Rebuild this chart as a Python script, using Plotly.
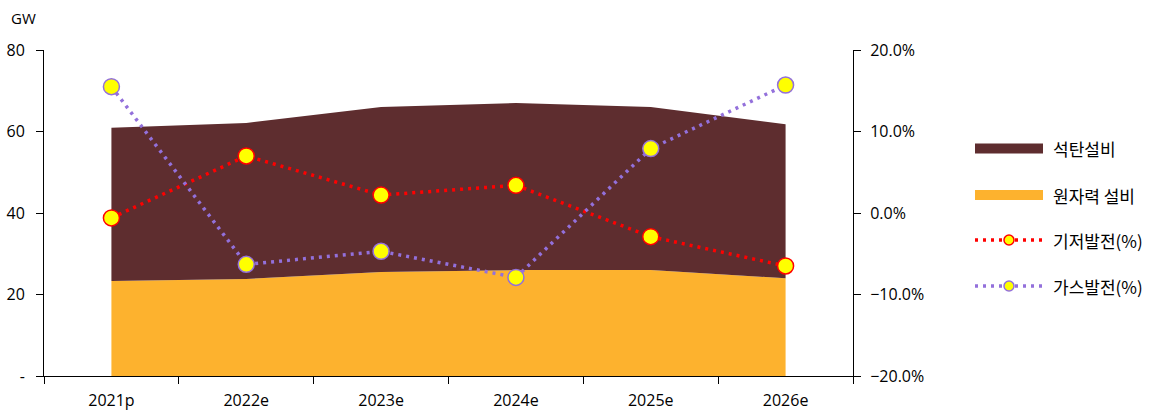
import plotly.graph_objects as go

categories = ["2021p", "2022e", "2023e", "2024e", "2025e", "2026e"]
nuclear_gw = [23.3, 23.8, 25.5, 26.0, 26.0, 24.0]
coal_gw = [37.6, 38.3, 40.5, 41.0, 40.0, 37.8]
baseload_pct = [-0.006, 0.070, 0.022, 0.034, -0.029, -0.065]
gas_pct = [0.155, -0.063, -0.047, -0.079, 0.079, 0.157]

left_ticks = [0, 20, 40, 60, 80]
left_ticktext = ["-", "20", "40", "60", "80"]
right_ticks = [-0.2, -0.1, 0.0, 0.1, 0.2]

names = ["석탄설비", "원자력 설비", "기저발전(%)", "가스발전(%)"]
COAL = "#5E2D2F"
NUC = "#FDB22E"
RED = "#FF0000"
PURPLE = "#9370DB"
YELLOW = "#FFFF00"

W, H = 1162, 411
ML, MR, MT, MB = 44, 309, 50, 35
PW = W - ML - MR
PH = H - MT - MB


def px(x):
    return (x - ML) / PW


def py(y):
    return (H - MB - y) / PH


fig = go.Figure()
fig.add_trace(go.Scatter(x=categories, y=nuclear_gw, name=names[1], mode="none",
                         stackgroup="one", fillcolor=NUC, showlegend=False))
fig.add_trace(go.Scatter(x=categories, y=coal_gw, name=names[0], mode="none",
                         stackgroup="one", fillcolor=COAL, showlegend=False))
fig.add_trace(go.Scatter(x=categories, y=baseload_pct, name=names[2], yaxis="y2",
                         mode="lines+markers",
                         line=dict(color=RED, width=3.5, dash="3px,5px"),
                         marker=dict(size=16, color=YELLOW, line=dict(color=RED, width=1.5)),
                         showlegend=False))
fig.add_trace(go.Scatter(x=categories, y=gas_pct, name=names[3], yaxis="y2",
                         mode="lines+markers",
                         line=dict(color=PURPLE, width=3.5, dash="3px,5px"),
                         marker=dict(size=16, color=YELLOW, line=dict(color=PURPLE, width=1.5)),
                         showlegend=False))

tickfont = dict(family="Open Sans", size=16, color="#000")
fig.update_layout(
    width=W, height=H, autosize=False,
    margin=dict(l=ML, r=MR, t=MT, b=MB, pad=0),
    plot_bgcolor="white", paper_bgcolor="white",
    showlegend=False,
    xaxis=dict(type="category", range=[-0.5, 5.5], showgrid=False, automargin=False,
               showline=True, linecolor="#000", linewidth=1,
               ticks="outside", ticklen=7, tickcolor="#000", tickson="boundaries",
               tickfont=tickfont, ticklabelstandoff=10),
    yaxis=dict(range=[0, 80], tickvals=left_ticks, ticktext=left_ticktext, automargin=False,
               showgrid=False, zeroline=False, showline=True, linecolor="#000",
               ticks="outside", ticklen=7, tickcolor="#000", tickfont=tickfont,
               ticklabelstandoff=8),
    yaxis2=dict(range=[-0.2, 0.2], tickvals=right_ticks, tickformat=".1%", automargin=False,
                overlaying="y", side="right", showgrid=False, zeroline=False,
                showline=True, linecolor="#000", ticks="outside", ticklen=7,
                tickcolor="#000", tickfont=tickfont, ticklabelstandoff=6),
)

fig.add_annotation(text="GW", xref="paper", yref="paper", x=px(9), y=py(18),
                   xanchor="left", yanchor="middle", showarrow=False,
                   font=dict(family="Open Sans", size=15, color="#000"))

# custom legend
legfont = dict(family="Noto Sans CJK KR", size=17, color="#000")
x0, x1, xt = 975, 1043, 1051
rows = [148.5, 195, 240, 286]
fig.add_shape(type="rect", xref="paper", yref="paper", x0=px(x0), x1=px(x1),
              y0=py(rows[0] - 5), y1=py(rows[0] + 5), fillcolor=COAL, line_width=0)
fig.add_shape(type="rect", xref="paper", yref="paper", x0=px(x0), x1=px(x1),
              y0=py(rows[1] - 5), y1=py(rows[1] + 5), fillcolor=NUC, line_width=0)
for r, c in [(rows[2], RED), (rows[3], PURPLE)]:
    fig.add_shape(type="line", xref="paper", yref="paper", x0=px(x0), x1=px(x1),
                  y0=py(r), y1=py(r), line=dict(color=c, width=3.5, dash="3px,5px"))
    fig.add_shape(type="circle", xref="paper", yref="paper",
                  x0=px(1009 - 5), x1=px(1009 + 5), y0=py(r - 5), y1=py(r + 5),
                  fillcolor=YELLOW, line=dict(color=c, width=1.5))
for r, n in zip(rows, names):
    fig.add_annotation(text=n, xref="paper", yref="paper", x=px(xt), y=py(r),
                       xanchor="left", yanchor="middle", showarrow=False, font=legfont)

fig.write_html("out.html")
